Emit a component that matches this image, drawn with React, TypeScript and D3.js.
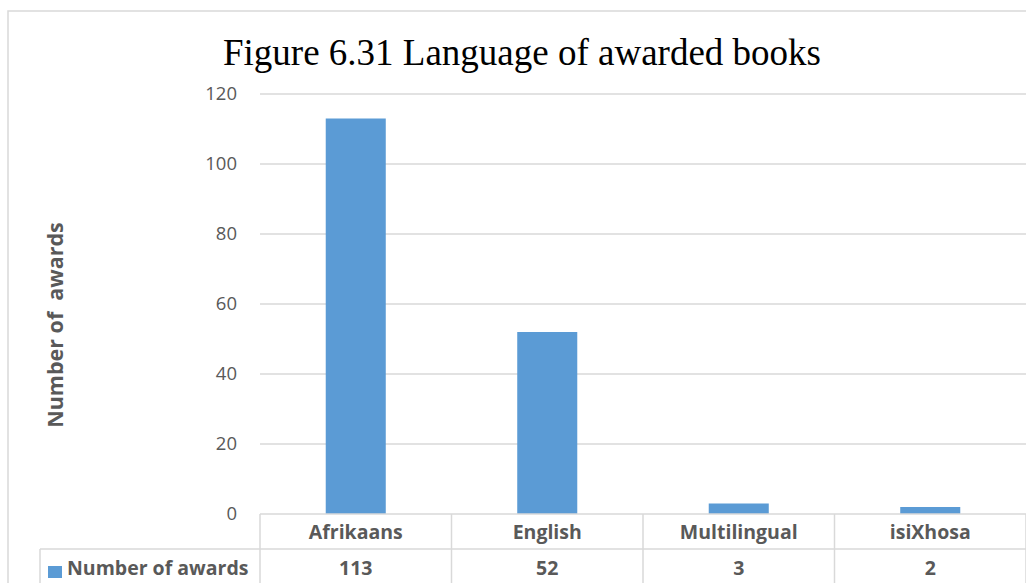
import React from 'react';
import * as d3 from 'd3';

const categories = ['Afrikaans', 'English', 'Multilingual', 'isiXhosa'];
const awards = [113, 52, 3, 2];
const yTicks = [0, 20, 40, 60, 80, 100, 120];
const seriesName = 'Number of awards';

const W = 1026;
const H = 583;
const plotLeft = 260;
const plotRight = 1026;
const plotTop = 94;
const plotBottom = 514;
const rowLine = 549;
const tableLeft = 40;

const grey = '#595959';
const lineColor = '#d9d9d9';
const barColor = '#5b9bd5';
const sans = '"Open Sans", "Liberation Sans", sans-serif';

const App: React.FC = () => {
  const x = d3.scaleBand<string>().domain(categories).range([plotLeft, plotRight]);
  const y = d3.scaleLinear().domain([0, 120]).range([plotBottom, plotTop]);
  const bw = x.bandwidth() / 3.19; // Excel gap width ~219%

  const bounds = categories.map(c => x(c) as number).concat([plotRight]);

  return (
    <svg width={W} height={H} style={{ position: 'fixed', left: 0, top: 0, background: '#fff' }}>
      {/* chart area border */}
      <rect x={8} y={11} width={W + 20} height={H + 20} fill="#fff" stroke={lineColor} strokeWidth={1.5} />

      <text x={522} y={65} textAnchor="middle" fontFamily='"Liberation Serif", "Times New Roman", serif' fontSize={37} fill="#000">
        Figure 6.31 Language of awarded books
      </text>

      {/* gridlines */}
      {yTicks.filter(t => t > 0).map(t => (
        <line key={t} x1={plotLeft} x2={plotRight + 10} y1={y(t)} y2={y(t)} stroke={lineColor} strokeWidth={1.5} />
      ))}
      {yTicks.map(t => (
        <text key={'l' + t} x={237} y={y(t)} dy="0.35em" textAnchor="end" fontFamily={sans} fontSize={18.5} fill={grey}>
          {t}
        </text>
      ))}

      {/* bars */}
      {categories.map((c, i) => (
        <rect key={c} x={(x(c) as number) + x.bandwidth() / 2 - bw / 2} y={y(awards[i])} width={bw}
          height={y(0) - y(awards[i])} fill={barColor} />
      ))}

      <text transform={`translate(63,325) rotate(-90)`} textAnchor="middle" fontFamily={sans} fontWeight="bold" fontSize={21.5} fill={grey}>
        {'Number of\u00a0\u00a0awards'}
      </text>

      {/* data table */}
      <line x1={plotLeft} x2={plotRight + 10} y1={plotBottom} y2={plotBottom} stroke={lineColor} strokeWidth={1.5} />
      <line x1={tableLeft} x2={plotRight + 10} y1={rowLine} y2={rowLine} stroke={lineColor} strokeWidth={1.5} />
      <line x1={tableLeft} x2={tableLeft} y1={rowLine} y2={H + 10} stroke={lineColor} strokeWidth={1.5} />
      {bounds.map((b, i) => (
        <line key={'v' + i} x1={b} x2={b} y1={plotBottom} y2={H + 10} stroke={lineColor} strokeWidth={1.5} />
      ))}
      {categories.map((c, i) => (
        <g key={'t' + c}>
          <text x={(x(c) as number) + x.bandwidth() / 2} y={539} textAnchor="middle" fontFamily={sans} fontWeight="bold" fontSize={19.5} fill={grey}>
            {c}
          </text>
          <text x={(x(c) as number) + x.bandwidth() / 2} y={575} textAnchor="middle" fontFamily={sans} fontWeight="bold" fontSize={19.5} fill={grey}>
            {awards[i]}
          </text>
        </g>
      ))}
      <rect x={48} y={566} width={14} height={12} fill={barColor} />
      <text x={67} y={575} fontFamily={sans} fontWeight="bold" fontSize={19.5} fill={grey}>
        {seriesName}
      </text>
    </svg>
  );
};

export default App;
